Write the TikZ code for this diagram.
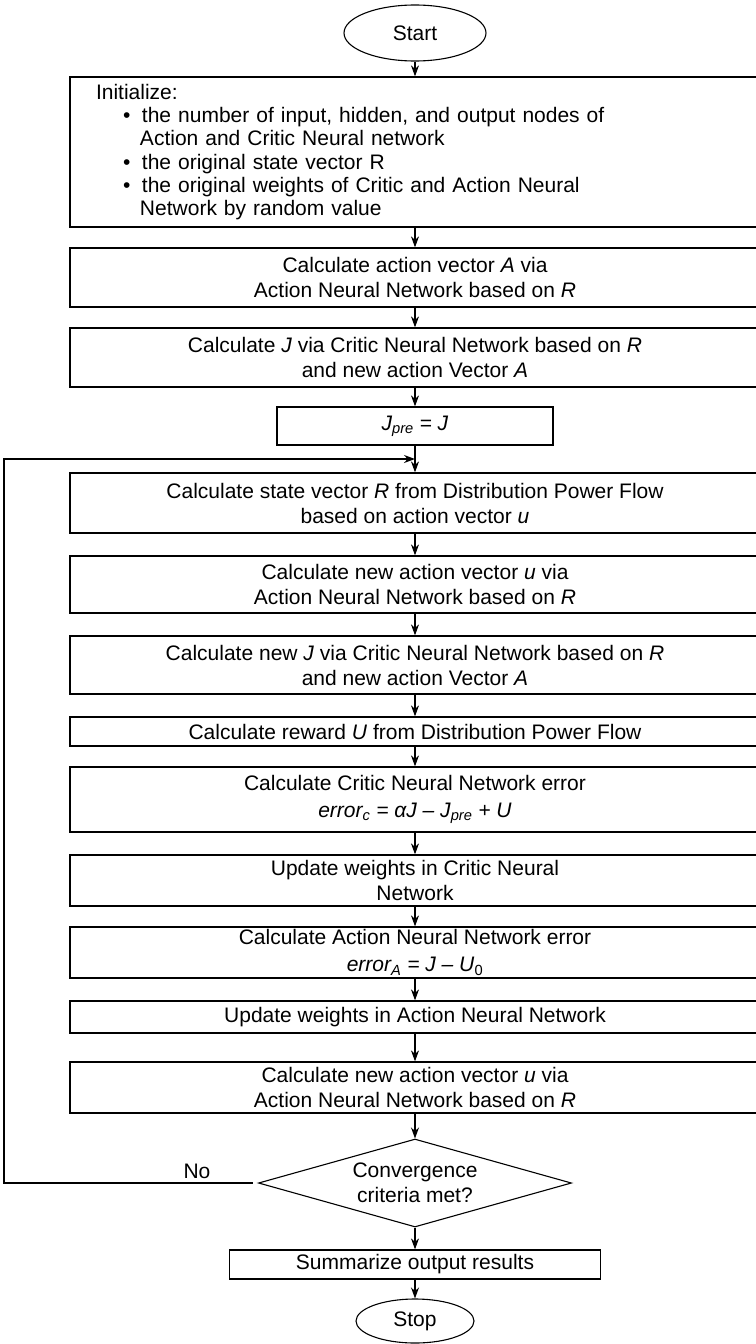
\documentclass[tikz,border=0pt]{standalone}
\usepackage{fontspec}
\setmainfont{Liberation Sans}
\usetikzlibrary{shapes.geometric,arrows.meta}
\begin{document}
\begin{tikzpicture}[x=1pt,y=-1pt,
  every node/.style={font=\fontsize{21}{25}\selectfont},
  box/.style={draw, line width=1.3pt, rectangle, minimum width=690pt, inner sep=0pt, align=center},
  term/.style={draw, line width=1.1pt, ellipse, inner sep=0pt},
  arr/.style={line width=1.1pt, -{Stealth[length=11pt,width=8pt]}}]
\useasboundingbox (0,0) rectangle (755,1344);

\node[term, minimum width=142pt, minimum height=56pt] (start) at (415,33) {Start};

\node[box, minimum height=150pt, text width=690pt, align=left,
      font=\fontsize{21}{23.2}\selectfont] (init) at (415,152) {%
\hspace*{26pt}Initialize:\\
\hspace*{53pt}\makebox[19pt][l]{•}the number of input, hidden, and output nodes of\\
\hspace*{70pt}Action and Critic Neural network\\
\hspace*{53pt}\makebox[19pt][l]{•}the original state vector R\\
\hspace*{53pt}\makebox[19pt][l]{•}the original weights of Critic and Action Neural\\
\hspace*{70pt}Network by random value};

\node[box, minimum height=59pt] (b2) at (415,277.5) {Calculate action vector \textit{A} via\\Action Neural Network based on \textit{R}};
\node[box, minimum height=59pt] (b3) at (415,357.5) {Calculate \textit{J} via Critic Neural Network based on \textit{R}\\and new action Vector \textit{A}};
\node[box, minimum width=276pt, minimum height=38pt] (jpre) at (415,426) {\textit{J\textsubscript{pre} = J}};
\coordinate (m) at (415,459);
\coordinate (lx) at (4,459);
\node[box, minimum height=60pt] (b4) at (415,503) {Calculate state vector \textit{R} from Distribution Power Flow\\based on action vector \textit{u}};
\node[box, minimum height=57pt] (b5) at (415,584.5) {Calculate new action vector \textit{u} via\\Action Neural Network based on \textit{R}};
\node[box, minimum height=58pt] (b6) at (415,665) {Calculate new \textit{J} via Critic Neural Network based on \textit{R}\\and new action Vector \textit{A}};
\node[box, minimum height=29pt] (b7) at (415,731.5) {Calculate reward \textit{U} from Distribution Power Flow};
\node[box, minimum height=65pt] (b8) at (415,799.5) {Calculate Critic Neural Network error\\[2pt]\textit{error\textsubscript{c} = αJ – J\textsubscript{pre} + U}};
\node[box, minimum height=51pt] (b9) at (415,880.5) {Update weights in Critic Neural\\Network};
\node[box, minimum height=51pt] (b10) at (415,952.5) {Calculate Action Neural Network error\\[2pt]\textit{error\textsubscript{A} = J – U}\textsubscript{0}};
\node[box, minimum height=32pt] (b11) at (415,1017) {Update weights in Action Neural Network};
\node[box, minimum height=51pt] (b12) at (415,1087.5) {Calculate new action vector \textit{u} via\\Action Neural Network based on \textit{R}};
\node[draw, line width=1.1pt, diamond, aspect=3.56, inner sep=0pt, minimum width=313pt, minimum height=88pt, align=center] (dec) at (415,1183) {Convergence\\criteria met?};
\node[box, minimum width=371pt, minimum height=29pt] (sum) at (415,1264.5) {Summarize output results};
\node[term, minimum width=118pt, minimum height=44pt] (stop) at (415,1321) {Stop};

\draw[arr] (start) -- (init);
\draw[arr] (init) -- (b2);
\draw[arr] (b2) -- (b3);
\draw[arr] (b3) -- (jpre);
\draw[arr] (jpre) -- (b4);
\draw[arr] (b4) -- (b5);
\draw[arr] (b5) -- (b6);
\draw[arr] (b6) -- (b7);
\draw[arr] (b7) -- (b8);
\draw[arr] (b8) -- (b9);
\draw[arr] (b9) -- (b10);
\draw[arr] (b10) -- (b11);
\draw[arr] (b11) -- (b12);
\draw[arr] (b12) -- (dec);
\draw[arr] (dec) -- (sum);
\draw[arr] (sum) -- (stop);
\draw[arr, shorten <=5pt] (dec.west) -- (dec.west -| lx) -- (lx) -- (m);
\node at (197,1171) {No};
\end{tikzpicture}
\end{document}
